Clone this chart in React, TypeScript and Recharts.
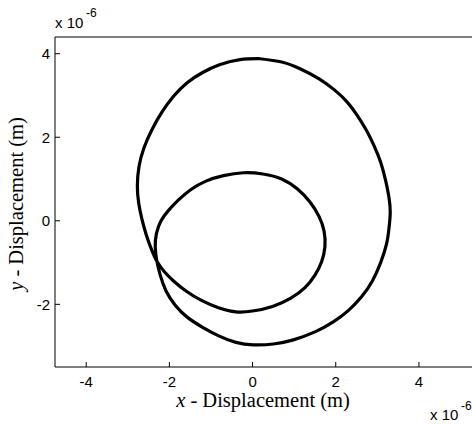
import { LineChart, Line, XAxis, YAxis } from "recharts";

const xTicks = [-4, -2, 0, 2, 4];
const yTicks = [-2, 0, 2, 4];

// orbit in units of 1e-6 m, traced clockwise: outer loop down the right side,
// through the crossing into the inner loop, then back up the outer left side
const outerRight: [number, number][] = [
  [0.18, 3.88], [0.7, 3.8], [1.14, 3.64], [1.6, 3.4], [1.96, 3.14],
  [2.26, 2.86], [2.52, 2.52], [2.74, 2.16], [2.92, 1.8], [3.08, 1.4],
  [3.2, 0.96], [3.28, 0.56], [3.31, 0.2], [3.28, -0.18], [3.22, -0.56],
  [3.08, -1.0], [2.88, -1.44], [2.62, -1.82], [2.3, -2.15], [1.94, -2.42],
  [1.5, -2.66], [0.98, -2.85], [0.5, -2.95], [0.02, -2.97], [-0.4, -2.91],
  [-0.8, -2.76], [-1.2, -2.55], [-1.58, -2.3], [-1.86, -2.02], [-2.08, -1.68],
  [-2.22, -1.3], [-2.3, -0.97],
];

const innerLoop: [number, number][] = [
  [-2.34, -0.62], [-2.31, -0.3], [-2.2, 0.0], [-2.02, 0.25], [-1.78, 0.5],
  [-1.48, 0.75], [-1.12, 0.95], [-0.7, 1.08], [-0.22, 1.15], [0.25, 1.12],
  [0.7, 1.0], [1.08, 0.76], [1.38, 0.45], [1.6, 0.1], [1.72, -0.25],
  [1.74, -0.62], [1.66, -0.98], [1.5, -1.3], [1.26, -1.6], [0.92, -1.85],
  [0.48, -2.05], [0.0, -2.16], [-0.4, -2.18], [-0.82, -2.08], [-1.24, -1.9],
  [-1.6, -1.68], [-1.9, -1.44], [-2.12, -1.22],
];

const outerLeft: [number, number][] = [
  [-2.3, -0.97], [-2.44, -0.66], [-2.56, -0.32], [-2.66, 0.04], [-2.74, 0.44],
  [-2.77, 0.84], [-2.73, 1.3], [-2.61, 1.75], [-2.42, 2.18], [-2.18, 2.6],
  [-1.9, 2.98], [-1.58, 3.3], [-1.2, 3.55], [-0.78, 3.74], [-0.3, 3.86],
  [0.18, 3.88],
];

const data = [...outerRight, ...innerLoop, ...outerLeft].map(([x, y]) => ({ x, y }));

const sans = "'Liberation Sans', Arial, Helvetica, sans-serif";
const serif = "'Liberation Serif', 'Times New Roman', serif";
const tickStyle = { fill: "#000", fontSize: 15, fontFamily: sans };

export default function App() {
  return (
    <div
      style={{
        position: "absolute",
        left: 0,
        top: 0,
        width: 472,
        height: 424,
        overflow: "hidden",
        background: "#fff",
      }}
    >
      <LineChart width={480} height={424} data={data} margin={{ top: 0, right: 0, bottom: 0, left: 0 }}>
        <XAxis
          xAxisId="b"
          dataKey="x"
          type="number"
          domain={[-4.75, 5.3]}
          allowDataOverflow
          ticks={xTicks}
          interval={0}
          orientation="bottom"
          height={57}
          stroke="#000"
          tickSize={-5}
          tickMargin={14}
          tick={tickStyle}
        />
        <XAxis
          xAxisId="t"
          dataKey="x"
          type="number"
          domain={[-4.75, 5.3]}
          allowDataOverflow
          ticks={xTicks}
          interval={0}
          orientation="top"
          height={37}
          stroke="#000"
          tickSize={-5}
          tick={false}
        />
        <YAxis
          yAxisId="l"
          type="number"
          domain={[-3.5, 4.4]}
          allowDataOverflow
          ticks={yTicks}
          interval={0}
          width={55}
          stroke="#000"
          tickSize={-5}
          tickMargin={10}
          tick={tickStyle}
        />
        <YAxis
          yAxisId="r"
          type="number"
          domain={[-3.5, 4.4]}
          allowDataOverflow
          ticks={yTicks}
          interval={0}
          orientation="right"
          width={7}
          stroke="#000"
          tickSize={-5}
          tick={false}
        />
        <Line
          xAxisId="b"
          yAxisId="l"
          dataKey="y"
          type="natural"
          stroke="#000"
          strokeWidth={3.2}
          dot={false}
          isAnimationActive={false}
        />
      </LineChart>
      <svg
        width={472}
        height={424}
        style={{ position: "absolute", left: 0, top: 0, pointerEvents: "none" }}
      >
        <g fontFamily={sans} fill="#000">
          <text x={55} y={28} fontSize={15}>x 10</text>
          <text x={86} y={17} fontSize={12}>-6</text>
          <text x={430} y={420} fontSize={15}>x 10</text>
          <text x={461} y={410} fontSize={12}>-6</text>
        </g>
        <text x={263} y={407} fontFamily={serif} fontSize={20.5} textAnchor="middle" fill="#000">
          <tspan fontStyle="italic">x</tspan> - Displacement (m)
        </text>
        <text
          transform="translate(23, 204) rotate(-90)"
          fontFamily={serif}
          fontSize={20.5}
          textAnchor="middle"
          fill="#000"
        >
          <tspan fontStyle="italic">y</tspan> - Displacement (m)
        </text>
      </svg>
    </div>
  );
}
